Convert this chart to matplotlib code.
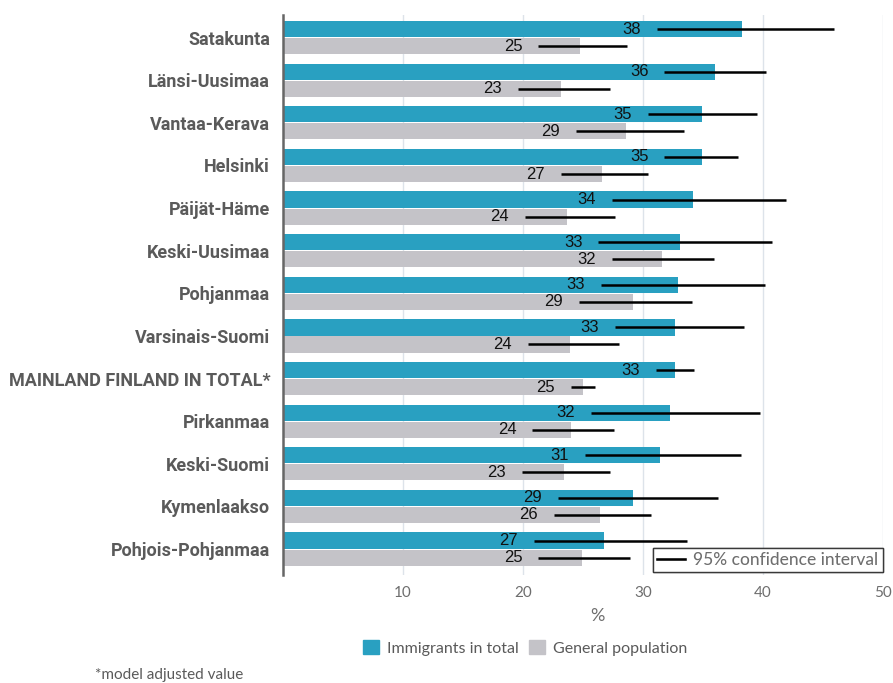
import numpy as np
import matplotlib.pyplot as plt
from matplotlib.lines import Line2D
from matplotlib.patches import Patch

regions = ["Satakunta", "Länsi-Uusimaa", "Vantaa-Kerava", "Helsinki", "Päijät-Häme",
           "Keski-Uusimaa", "Pohjanmaa", "Varsinais-Suomi", "MAINLAND FINLAND IN TOTAL*",
           "Pirkanmaa", "Keski-Suomi", "Kymenlaakso", "Pohjois-Pohjanmaa"]

imm_value = [38.3, 36.0, 34.9, 34.9, 34.2, 33.1, 32.9, 32.7, 32.7, 32.3, 31.4, 29.2, 26.8]
imm_low = [31.2, 31.8, 30.4, 31.8, 27.4, 26.3, 26.5, 27.7, 31.1, 25.7, 25.2, 22.9, 20.9]
imm_high = [45.9, 40.3, 39.5, 37.9, 41.9, 40.8, 40.2, 38.4, 34.3, 39.8, 38.2, 36.3, 33.7]

gen_value = [24.8, 23.2, 28.6, 26.6, 23.7, 31.6, 29.2, 23.9, 25.0, 24.0, 23.4, 26.4, 24.9]
gen_low = [21.3, 19.6, 24.4, 23.2, 20.2, 27.4, 24.7, 20.4, 24.0, 20.8, 19.9, 22.6, 21.3]
gen_high = [28.7, 27.3, 33.4, 30.4, 27.7, 35.9, 34.1, 28.0, 26.0, 27.6, 27.3, 30.7, 28.9]

x_ticks = [10, 20, 30, 40, 50]

TEAL = "#29a0c1"
GREY = "#c4c3c8"
TEXT_GREY = "#5a5a5a"
LIGHT_GREY = "#6e6e6e"

fig = plt.figure(figsize=(8.93, 6.83), dpi=100)
ax = fig.add_axes([0.3166, 0.158, 0.672, 0.820])

y = np.arange(len(regions))
off = 0.2
h = 0.38

ax.barh(y - off, imm_value, height=h, color=TEAL, zorder=2)
ax.barh(y + off, gen_value, height=h, color=GREY, zorder=2)
ax.hlines(y - off, imm_low, imm_high, color="black", lw=1.8, zorder=3)
ax.hlines(y + off, gen_low, gen_high, color="black", lw=1.8, zorder=3)

# value labels sit just left of the lower CI end
for yy, v, lo in zip(y - off, imm_value, imm_low):
    ax.annotate(f"{v:.0f}", (lo, yy), xytext=(-11.5, 0), textcoords="offset points",
                ha="right", va="center", fontsize=12, family="Liberation Sans",
                color="#111111", zorder=4)
for yy, v, lo in zip(y + off, gen_value, gen_low):
    ax.annotate(f"{v:.0f}", (lo, yy), xytext=(-11.5, 0), textcoords="offset points",
                ha="right", va="center", fontsize=12, family="Liberation Sans",
                color="#111111", zorder=4)

ax.set_xlim(0, 50)
ax.set_ylim(12.61, -0.53)
ax.set_xticks(x_ticks)
ax.set_xticklabels([str(t) for t in x_ticks], fontsize=11, color=LIGHT_GREY, family="Lato")
ax.set_yticks(y)
ax.set_yticklabels(regions, fontsize=13, fontweight="bold", color=TEXT_GREY, family="Roboto")
ax.tick_params(axis="both", length=0)
ax.tick_params(axis="x", pad=8)
ax.tick_params(axis="y", pad=9)
ax.grid(axis="x", color="#dde3ea", lw=1, zorder=0)
ax.set_axisbelow(True)
for s in ["top", "right", "bottom"]:
    ax.spines[s].set_visible(False)
ax.spines["left"].set_color("#666666")
ax.spines["left"].set_linewidth(1.8)

ax.set_xlabel("%", fontsize=13, color=LIGHT_GREY, family="Lato")
ax.xaxis.set_label_coords(0.524, -0.058)

ci = ax.legend(handles=[Line2D([0], [0], color="black", lw=1.8)],
               labels=["95% confidence interval"], loc="lower right",
               bbox_to_anchor=(1.0, 0.005), frameon=True, fancybox=False,
               handlelength=1.6, handletextpad=0.5, borderpad=0.25, borderaxespad=0,
               prop={"family": "Lato", "size": 12.5})
ci.get_frame().set_edgecolor("#222222")
ci.get_frame().set_linewidth(1)
for t in ci.get_texts():
    t.set_color(LIGHT_GREY)
ax.add_artist(ci)

fig.legend(handles=[Patch(color=TEAL), Patch(color=GREY)],
           labels=["Immigrants in total", "General population"],
           loc="center", bbox_to_anchor=(525 / 893, 1 - 648 / 683), ncol=2,
           frameon=False, prop={"family": "Lato", "size": 11.5},
           handlelength=1.0, handleheight=1.0, handletextpad=0.5, columnspacing=0.6,
           labelcolor=TEXT_GREY)

fig.text(95 / 893, 1 - 675 / 683, "*model adjusted value", fontsize=11, color=TEXT_GREY,
         family="Lato", ha="left", va="center")

fig.savefig("out.png", dpi=100)
